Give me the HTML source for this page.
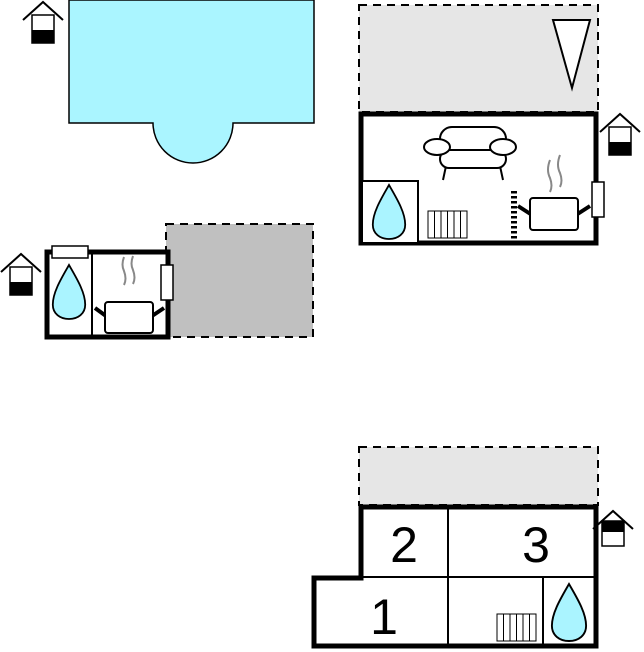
<!DOCTYPE html>
<html><head><style>body{margin:0;background:#fff}svg{display:block}</style></head><body>
<svg width="644" height="652" viewBox="0 0 644 652" xmlns="http://www.w3.org/2000/svg" font-family="Liberation Sans, sans-serif">
<defs>
<g id="house"><path d="M0 18 L20 0 L40 18" fill="none" stroke="#000" stroke-width="2"/><rect x="9" y="13" width="22" height="28" fill="#fff" stroke="#000" stroke-width="1.5"/><rect x="9" y="28" width="22" height="13" fill="#000"/></g>
<g id="drop"><path d="M0 0 C8 14 18 30 18 44 C18 54 10 60 0 60 C-10 60 -18 54 -18 44 C-18 30 -8 14 0 0Z" fill="#aaf4ff" stroke="#000" stroke-width="2"/></g>
<g id="rad" fill="#fff" stroke="#000" stroke-width="1"><rect x="0" y="0" width="39" height="27"/><path d="M6.5 0V27M13 0V27M19.5 0V27M26 0V27M32.5 0V27"/></g>
</defs>
<!-- pool -->
<path d="M69 0 H314 V123 H233 A40 40 0 0 1 153 123 H69 Z" fill="#aaf5ff" stroke="#000" stroke-width="1.5"/>
<use href="#house" x="23" y="2"/>
<!-- top right -->
<rect x="359" y="5" width="239" height="107" fill="#e6e6e6" stroke="#000" stroke-width="2" stroke-dasharray="8,6"/>
<path d="M553 20 L590 20 L572 88 Z" fill="#fff" stroke="#000" stroke-width="2"/>
<rect x="361" y="114" width="235" height="129" fill="#fff" stroke="#000" stroke-width="5"/>
<rect x="362" y="181" width="56" height="62" fill="#fff" stroke="#000" stroke-width="2"/>
<use href="#drop" x="389" y="185" transform="translate(389 185) scale(0.9) translate(-389 -185)"/>
<g fill="#fff" stroke="#000" stroke-width="2">
<path d="M446 166 L443 180 M500 166 L503 180"/>
<rect x="440" y="127" width="66" height="24" rx="12"/>
<rect x="440" y="150" width="66" height="18" rx="9"/>
<ellipse cx="437" cy="147" rx="13" ry="8"/><ellipse cx="503" cy="147" rx="13" ry="8"/>
</g>
<use href="#rad" x="428" y="211"/>
<path d="M514 191 V240" stroke="#000" stroke-width="6" stroke-dasharray="2.5,2.5"/>
<path d="M550 160 q-4 10 0 18 q3 8 0 14 M560 155 q-4 10 0 18 q3 8 0 14" fill="none" stroke="#888" stroke-width="2"/>
<path d="M518 206 L532 215 M590 206 L576 215" stroke="#000" stroke-width="4"/>
<rect x="530" y="198" width="48" height="32" rx="3" fill="#fff" stroke="#000" stroke-width="2"/>
<rect x="592" y="182" width="12" height="35" fill="#fff" stroke="#000" stroke-width="1.5"/>
<use href="#house" x="600" y="114"/>
<!-- middle left -->
<rect x="166" y="224" width="147" height="113" fill="#c0c0c0" stroke="#000" stroke-width="2" stroke-dasharray="8,6"/>
<rect x="47" y="252" width="121" height="85" fill="#fff" stroke="#000" stroke-width="5"/>
<path d="M92 252 V337" stroke="#000" stroke-width="2"/>
<rect x="52" y="246" width="36" height="12" fill="#fff" stroke="#000" stroke-width="1.5"/>
<use href="#drop" x="69" y="265" transform="translate(69 265) scale(0.9) translate(-69 -265)"/>
<path d="M124 257 q-3 8 0 14 q3 8 0 14 M133 256 q-3 8 0 14 q3 8 0 14" fill="none" stroke="#888" stroke-width="2"/>
<path d="M95 308 L106 316 M164 308 L152 316" stroke="#000" stroke-width="4"/>
<rect x="105" y="302" width="48" height="31" rx="3" fill="#fff" stroke="#000" stroke-width="2"/>
<rect x="161" y="265" width="12" height="35" fill="#fff" stroke="#000" stroke-width="1.5"/>
<use href="#house" x="1" y="254"/>
<!-- bottom -->
<rect x="359" y="447" width="239" height="58" fill="#e6e6e6" stroke="#000" stroke-width="2" stroke-dasharray="8,6"/>
<path d="M361 507 H596 V646 H314 V578 H361 Z" fill="#fff" stroke="#000" stroke-width="5"/>
<path d="M361 577 H596 M448 507 V646 M543 577 V646" stroke="#000" stroke-width="2"/>
<g font-size="50" text-anchor="middle" fill="#000">
<text x="404" y="562">2</text><text x="536" y="562">3</text><text x="384" y="634">1</text>
</g>
<use href="#rad" x="497" y="614"/>
<use href="#drop" x="569" y="584" transform="translate(569 584) scale(0.95) translate(-569 -584)"/>
<g transform="translate(593 506)"><path d="M0 23 L20 5 L40 23" fill="none" stroke="#000" stroke-width="2"/><rect x="9" y="15" width="22" height="25" fill="#fff" stroke="#000" stroke-width="1.5"/><rect x="9" y="15" width="22" height="11" fill="#000"/></g>
</svg>
</body></html>
